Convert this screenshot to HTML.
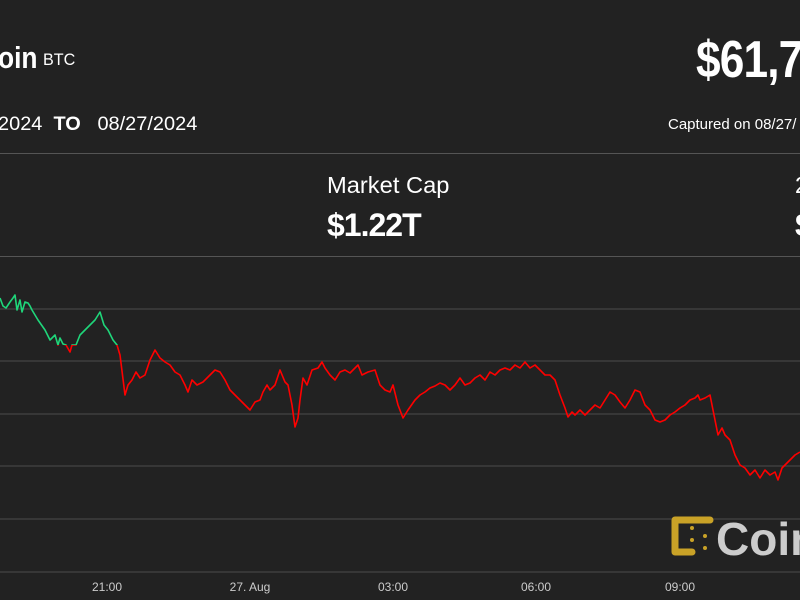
<!DOCTYPE html>
<html><head><meta charset="utf-8"><style>
html,body{margin:0;padding:0;background:#222222;}
body{width:800px;height:600px;overflow:hidden;position:relative;font-family:"Liberation Sans",sans-serif;color:#fff;}
.t{position:absolute;white-space:nowrap;transform-origin:0 0;}
</style></head><body>
<div class="t" style="left:-2px;top:40px;font-size:31px;font-weight:bold;transform:scaleX(0.85);">oin</div>
<div class="t" style="left:43px;top:50px;font-size:17px;transform:scaleX(0.95);">BTC</div>
<div class="t" style="left:696px;top:30px;font-size:52px;font-weight:bold;transform:scaleX(0.85);letter-spacing:-1px;">$61,7</div>
<div class="t" style="left:-2px;top:114px;font-size:19px;transform:scaleX(1.05);">2024 &nbsp;<b>TO</b>&nbsp;&nbsp; 08/27/2024</div>
<div class="t" style="left:668px;top:116px;font-size:15px;transform:scaleX(1.0);">Captured on 08/27/</div>
<div style="position:absolute;left:0;top:153px;width:800px;height:1px;background:#555;"></div>
<div class="t" style="left:327px;top:172px;font-size:23px;transform:scaleX(1.03);">Market Cap</div>
<div class="t" style="left:327px;top:207px;font-size:32px;font-weight:bold;transform:scaleX(1.0);letter-spacing:-1px;">$1.22T</div>
<div class="t" style="left:795px;top:172px;font-size:23px;">2</div>
<div class="t" style="left:795px;top:207px;font-size:32px;font-weight:bold;">$</div>
<div style="position:absolute;left:0;top:256px;width:800px;height:1px;background:#555;"></div>
<svg width="800" height="600" style="position:absolute;left:0;top:0">
<defs>
<clipPath id="g"><rect x="0" y="0" width="800" height="345"/></clipPath>
<clipPath id="r"><rect x="0" y="345" width="800" height="300"/></clipPath>
</defs>
<g stroke="#444" stroke-width="1.2">
<line x1="0" x2="800" y1="309" y2="309"/><line x1="0" x2="800" y1="361" y2="361"/>
<line x1="0" x2="800" y1="414" y2="414"/><line x1="0" x2="800" y1="466" y2="466"/>
<line x1="0" x2="800" y1="519" y2="519"/><line x1="0" x2="800" y1="572" y2="572"/>
</g>
<g id="ln" fill="none" stroke-width="1.6" stroke-linejoin="round">
<polyline clip-path="url(#g)" stroke="#1fd67a" points="0,298 3,306 6,308 10,302 13,298 15,295 17,310 20,300 22,312 25,302 28,303 30,306 32,310 38,320 45,330 50,340 55,335 58,345 60,338 63,344 66,345 70,352 72,345 76,345 80,335 85,330 90,325 95,320 100,312 104,325 108,330 113,340 117,345 120,355 125,395 128,385 132,380 136,372"/>
<polyline clip-path="url(#r)" stroke="#ff0000" points="50,340 55,335 58,345 60,338 63,344 66,345 70,352 72,345 76,345 80,335 85,330 90,325 95,320 100,312 104,325 108,330 113,340 117,345 120,355 125,395 128,385 132,380 136,372 140,378 145,375 150,360 155,350 160,358 165,362 170,365 175,372 180,375 185,385 188,392 192,380 197,385 203,382 210,375 215,370 220,372 225,380 230,390 235,395 240,400 245,405 250,410 255,402 260,400 263,392 267,385 270,390 275,385 280,370 285,382 288,385 292,405 295,427 298,418 300,400 303,378 307,385 312,370 318,368 322,362 325,368 330,375 335,380 340,372 345,370 350,373 353,370 358,365 362,375 368,372 375,370 380,385 385,390 390,392 393,385 398,405 403,418 408,410 415,400 420,395 425,392 430,388 435,386 440,383 445,385 450,390 455,385 460,378 465,385 470,383 475,378 480,375 485,380 490,372 495,375 500,370 505,368 510,370 515,365 520,368 525,362 530,368 535,365 540,370 545,375 550,375 555,380 560,395 565,408 568,417 572,412 575,415 580,410 585,415 590,410 595,405 600,408 605,400 610,392 615,395 620,402 625,408 630,400 635,390 640,392 645,405 650,410 655,420 660,422 665,420 670,415 675,412 680,408 685,405 690,400 695,398 698,395 700,400 705,398 710,395 715,420 718,435 722,428 725,435 730,440 735,455 740,465 745,468 750,475 755,470 760,478 765,470 770,475 775,472 778,480 782,468 788,462 795,455 800,452"/>
</g>
<g fill="#ccc" font-family="Liberation Sans, sans-serif" font-size="12" text-anchor="middle">
<text x="107" y="591">21:00</text><text x="250" y="591">27. Aug</text>
<text x="393" y="591">03:00</text><text x="536" y="591">06:00</text><text x="680" y="591">09:00</text>
</g>
<g fill="none" stroke="#c9a227" stroke-width="7" stroke-linecap="round" stroke-linejoin="round">
<path d="M710,520 H675 V552 H692"/>
</g>
<g fill="#c9a227"><circle cx="692" cy="528" r="2"/><circle cx="705" cy="536" r="2"/><circle cx="705" cy="548" r="2"/><circle cx="692" cy="540" r="2"/></g>
<text x="716" y="555" fill="#cccccc" font-family="Liberation Sans, sans-serif" font-weight="bold" font-size="46">Coin</text>
</svg>
</body></html>
